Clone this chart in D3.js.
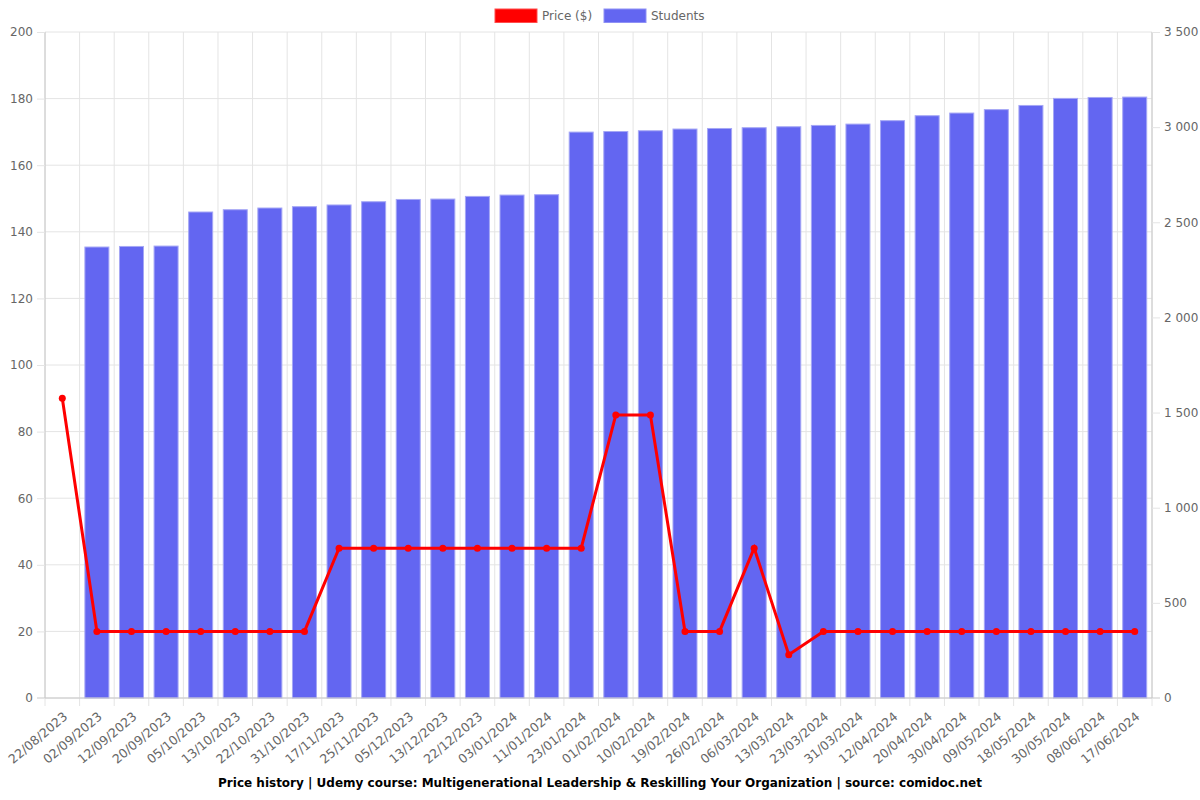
<!DOCTYPE html>
<html>
<head>
<meta charset="utf-8">
<script src="https://cdn.jsdelivr.net/npm/d3@7/dist/d3.min.js"></script>
<style>
  html, body { margin: 0; padding: 0; background: #fff; }
  svg { display: block; font-family: "DejaVu Sans", sans-serif; }
</style>
</head>
<body>
<svg id="chart" width="1200" height="800"></svg>
<script>
const dates = ["22/08/2023","02/09/2023","12/09/2023","20/09/2023","05/10/2023","13/10/2023","22/10/2023","31/10/2023","17/11/2023","25/11/2023","05/12/2023","13/12/2023","22/12/2023","03/01/2024","11/01/2024","23/01/2024","01/02/2024","10/02/2024","19/02/2024","26/02/2024","06/03/2024","13/03/2024","23/03/2024","31/03/2024","12/04/2024","20/04/2024","30/04/2024","09/05/2024","18/05/2024","30/05/2024","08/06/2024","17/06/2024"];
const prices = [90,20,20,20,20,20,20,20,45,45,45,45,45,45,45,45,85,85,20,20,45,13,20,20,20,20,20,20,20,20,20,20];
const students = [null,2370,2373,2375,2554,2566,2575,2582,2591,2608,2620,2622,2636,2643,2645,2974,2977,2981,2990,2993,2997,3002,3009,3016,3034,3060,3074,3092,3114,3151,3156,3158];
const priceTicks = [0,20,40,60,80,100,120,140,160,180,200];
const studentTicks = [0,500,1000,1500,2000,2500,3000,3500];
const title = "Price history | Udemy course: Multigenerational Leadership & Reskilling Your Organization | source: comidoc.net";
const legendItems = [{label:"Price ($)", color:"#ff0000"}, {label:"Students", color:"#6366f1"}];

const svg = d3.select("#chart");
const m = {left:45, right:1152, top:32, bottom:698};

const xc = d3.scaleBand().domain(dates).range([m.left, m.right]);
const yL = d3.scaleLinear().domain([0,200]).range([m.bottom, m.top]);
const yR = d3.scaleLinear().domain([0,3500]).range([m.bottom, m.top]);

const grid = svg.append("g");
grid.selectAll("line.h").data(priceTicks).join("line")
  .attr("x1", m.left).attr("x2", m.right)
  .attr("y1", d => yL(d)).attr("y2", d => yL(d))
  .attr("stroke", "#e4e4e4").attr("stroke-width", 1);
const bounds = dates.map(d => xc(d)).concat([m.right]);
grid.selectAll("line.v").data(bounds).join("line")
  .attr("x1", d => d).attr("x2", d => d)
  .attr("y1", m.top).attr("y2", m.bottom + 8)
  .attr("stroke", "#e4e4e4").attr("stroke-width", 1);

// bars
const bw = 24;
svg.append("g").selectAll("rect").data(dates.map((d,i)=>({d, v:students[i]})).filter(o => o.v != null)).join("rect")
  .attr("x", o => xc(o.d) + xc.bandwidth()/2 - bw/2)
  .attr("width", bw)
  .attr("y", o => yR(o.v))
  .attr("height", o => m.bottom - yR(o.v))
  .attr("fill", "#6366f1")
  .attr("stroke", "#a5a7f5").attr("stroke-width", 1);

// axes lines
svg.append("line").attr("x1", m.left).attr("x2", m.left).attr("y1", m.top).attr("y2", m.bottom).attr("stroke", "#c8c8c8");
svg.append("line").attr("x1", m.right).attr("x2", m.right).attr("y1", m.top).attr("y2", m.bottom).attr("stroke", "#c8c8c8");
svg.append("line").attr("x1", m.left - 8).attr("x2", m.right + 8).attr("y1", m.bottom).attr("y2", m.bottom).attr("stroke", "#c8c8c8");

// left axis
const gl = svg.append("g").attr("transform", `translate(${m.left},0)`)
  .call(d3.axisLeft(yL).tickValues(priceTicks).tickSize(8).tickPadding(4));
gl.select(".domain").remove();
gl.selectAll(".tick line").attr("stroke", "#e4e4e4");
gl.selectAll("text").attr("fill", "#666").attr("font-size", 12).attr("font-family", "DejaVu Sans");

// right axis
const fmt = v => d3.format(",")(v).replace(/,/g, " ");
const gr = svg.append("g").attr("transform", `translate(${m.right},0)`)
  .call(d3.axisRight(yR).tickValues(studentTicks).tickSize(8).tickPadding(4).tickFormat(fmt));
gr.select(".domain").remove();
gr.selectAll(".tick line").attr("stroke", "#e4e4e4");
gr.selectAll("text").attr("fill", "#666").attr("font-size", 12).attr("font-family", "DejaVu Sans");

// x labels
svg.append("g").selectAll("text").data(dates).join("text")
  .attr("transform", d => `translate(${xc(d) + xc.bandwidth()/2 + 6},${m.bottom + 20}) rotate(-40)`)
  .attr("text-anchor", "end")
  .attr("fill", "#666").attr("font-size", 12.5)
  .text(d => d);

// price line
const line = d3.line().x((d,i) => xc(dates[i]) + xc.bandwidth()/2).y(d => yL(d));
svg.append("path").datum(prices).attr("d", line)
  .attr("fill", "none").attr("stroke", "#ff0000").attr("stroke-width", 3);
svg.append("g").selectAll("circle").data(prices).join("circle")
  .attr("cx", (d,i) => xc(dates[i]) + xc.bandwidth()/2)
  .attr("cy", d => yL(d)).attr("r", 3.5)
  .attr("fill", "#ff0000");

// legend
const lg = svg.append("g");
const lx = [495, 604];
legendItems.forEach((it, i) => {
  lg.append("rect").attr("x", lx[i]).attr("y", 9).attr("width", 42).attr("height", 13.5).attr("fill", it.color)
    .attr("stroke", i === 0 ? "#ff4d4d" : "#8f91f5").attr("stroke-width", 1);
  lg.append("text").attr("x", lx[i] + 47).attr("y", 20).attr("fill", "#666").attr("font-size", 12).text(it.label);
});

// title
svg.append("text").attr("x", 600).attr("y", 787).attr("text-anchor", "middle")
  .attr("font-weight", "bold").attr("font-size", 12).attr("fill", "#000").text(title);
</script>
</body>
</html>
